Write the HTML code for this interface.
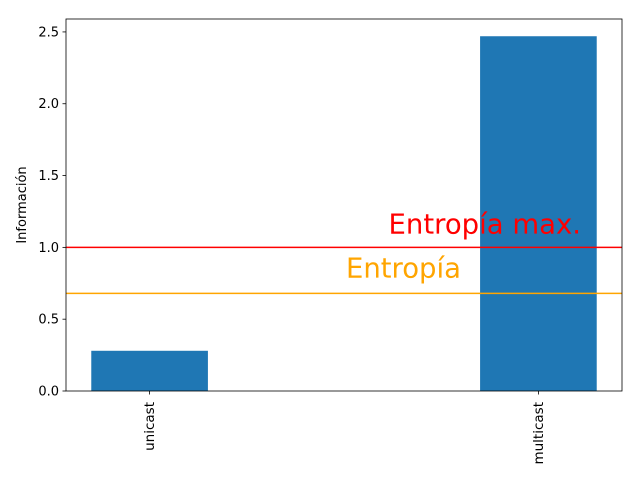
<!DOCTYPE html>
<html><head><meta charset="utf-8"><style>
html,body{margin:0;padding:0;background:#fff;}
svg{display:block;font-family:"DejaVu Sans","Liberation Sans",sans-serif;}
</style></head><body>
<svg id="chart" width="640" height="480"></svg>
<script>
const categories = ["unicast", "multicast"];
const values = [0.28, 2.47];
const yTicks = [0.0, 0.5, 1.0, 1.5, 2.0, 2.5];
const yTickLabels = ["0.0", "0.5", "1.0", "1.5", "2.0", "2.5"];
const entropyMax = 1.0;
const entropy = 0.68;

const NS = "http://www.w3.org/2000/svg";
const svg = document.getElementById("chart");
const L = 66, R = 622, T = 19, B = 391;
const xMin = -0.215, xMax = 1.215;
const yMin = 0, yMax = 2.59;
const xs = v => L + (v - xMin) / (xMax - xMin) * (R - L);
const ys = v => B - (v - yMin) / (yMax - yMin) * (B - T);
function mk(tag, attrs, parent) {
  const e = document.createElementNS(NS, tag);
  for (const k in attrs) e.setAttribute(k, attrs[k]);
  (parent || svg).appendChild(e);
  return e;
}
const barW = 0.3;
categories.forEach((c, i) => {
  const r = mk("rect", {x: xs(i - barW/2), y: ys(values[i]), width: xs(i + barW/2) - xs(i - barW/2), height: ys(0) - ys(values[i]), fill: "#1f77b4"});
  
  
  const t = mk("line", {x1: xs(i), x2: xs(i), y1: B, y2: B + 3.5, stroke: "#000", "stroke-width": 0.8});
  
  
  const lb = mk("text", {x: 0, y: 0, "font-size": 13.5, "text-anchor": "start", transform: `translate(${xs(i) + 4.5},${B + 6}) rotate(90)`});
  lb.textContent = c;
  
  
  lb.setAttribute('text-anchor', 'end');
  lb.setAttribute('transform', `translate(${xs(i) + 4.5},${B + 11}) rotate(-90)`);
});
yTicks.forEach((v, i) => {
  const t = mk("line", {x1: L - 3.5, x2: L, y1: ys(v), y2: ys(v), stroke: "#000", "stroke-width": 0.8});
  
  
  const lb = mk("text", {x: L - 7, y: ys(v) + 4.5, "font-size": 13, "text-anchor": "end"});
  lb.textContent = yTickLabels[i];
  
  
});
const l1 = mk("line", {x1: L, x2: R, y1: ys(entropyMax), y2: ys(entropyMax), stroke: "red", "stroke-width": 1.5});


const l2 = mk("line", {x1: L, x2: R, y1: ys(entropy), y2: ys(entropy), stroke: "orange", "stroke-width": 1.5});


const t1 = mk("text", {x: 581, y: ys(entropyMax) - 14, "font-size": 27.5, fill: "red", "text-anchor": "end"});
t1.textContent = "Entropía max.";


const t2 = mk("text", {x: 461, y: ys(entropy) - 16, "font-size": 27.5, fill: "orange", "text-anchor": "end"});
t2.textContent = "Entropía";


const frame = mk("rect", {x: L, y: T, width: R - L, height: B - T, fill: "none", stroke: "#000", "stroke-width": 0.8});


const yt = mk("text", {x: 0, y: 0, "font-size": 13, "text-anchor": "middle", transform: `translate(26,${(T + B) / 2}) rotate(-90)`});
yt.textContent = "Información";


</script>
</body></html>
